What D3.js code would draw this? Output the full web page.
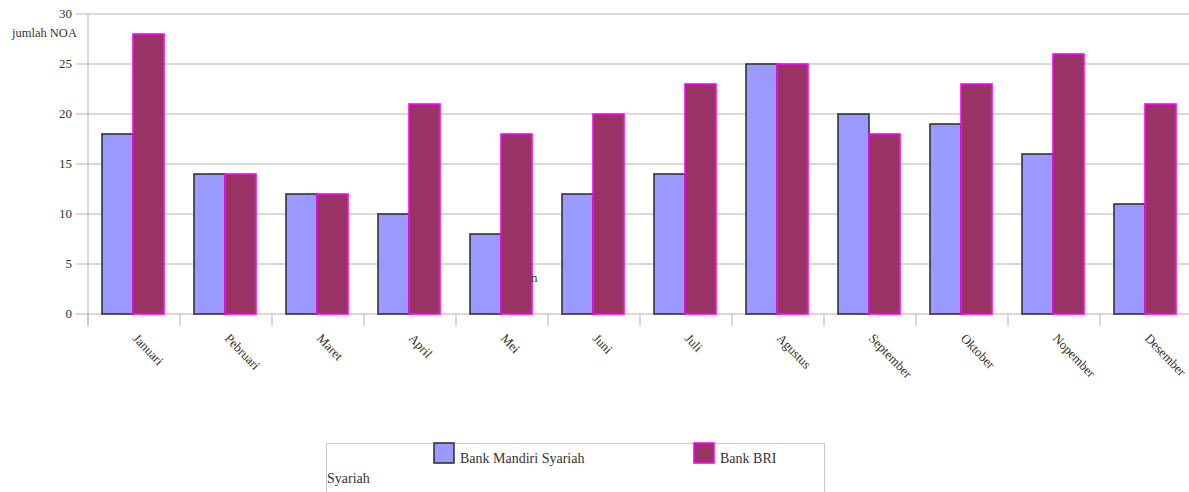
<!DOCTYPE html>
<html>
<head>
<meta charset="utf-8">
<script src="https://cdn.jsdelivr.net/npm/d3@7"></script>
<style>
  body { margin: 0; background: #fff; }
  svg { display: block; font-family: "Liberation Serif", "DejaVu Serif", serif; }
</style>
</head>
<body>
<svg id="chart" width="1189" height="492"></svg>
<script>
const months = ["Januari", "Pebruari", "Maret", "April", "Mei", "Juni", "Juli",
    "Agustus", "September", "Oktober", "Nopember", "Desember"];
const mandiri = [18, 14, 12, 10, 8, 12, 14, 25, 20, 19, 16, 11];
const bri = [28, 14, 12, 21, 18, 20, 23, 25, 18, 23, 26, 21];
const yTicks = [0, 5, 10, 15, 20, 25, 30];

const series = [
    { name: "Bank Mandiri Syariah", values: mandiri, fill: "#9999ff", stroke: "#333333" },
    { name: "Bank BRI", values: bri, fill: "#993366", stroke: "#ff00ff" }
];

const svg = d3.select("#chart");
const grid = "#b3b3b3";

const x = d3.scaleBand()
    .domain(months)
    .range([88, 1192]);

const y = d3.scaleLinear()
    .domain([0, 30])
    .range([314, 14]);

// garis grid horizontal
svg.append("g")
    .selectAll("line")
    .data(yTicks)
    .enter()
    .append("line")
    .attr("x1", 76)
    .attr("x2", 1189)
    .attr("y1", d => y(d))
    .attr("y2", d => y(d))
    .attr("stroke", grid)
    .attr("stroke-width", 1);

// sumbu y
svg.append("line")
    .attr("x1", 88).attr("x2", 88)
    .attr("y1", y(30)).attr("y2", 326)
    .attr("stroke", grid);

svg.append("g")
    .selectAll("text")
    .data(yTicks)
    .enter()
    .append("text")
    .attr("x", 72)
    .attr("y", d => y(d) + 4)
    .attr("text-anchor", "end")
    .attr("font-size", 13)
    .attr("fill", "#333")
    .text(d => d);

svg.append("text")
    .attr("x", 12)
    .attr("y", 37)
    .attr("font-size", 12.5)
    .attr("fill", "#333")
    .text("jumlah NOA");

// tick kategori
svg.append("g")
    .selectAll("line")
    .data(months)
    .enter()
    .append("line")
    .attr("x1", d => x(d)).attr("x2", d => x(d))
    .attr("y1", 314).attr("y2", 326)
    .attr("stroke", grid);

const barW = 31;
const offset = 14;

const groups = svg.append("g")
    .selectAll("g")
    .data(months)
    .enter()
    .append("g")
    .attr("transform", d => `translate(${x(d) + offset},0)`);

series.forEach((s, si) => {
    groups.append("rect")
        .attr("x", si * barW)
        .attr("y", (d, i) => y(s.values[i]))
        .attr("width", barW)
        .attr("height", (d, i) => y(0) - y(s.values[i]))
        .attr("fill", s.fill)
        .attr("stroke", s.stroke)
        .attr("stroke-width", 1.6);
});

// label bulan miring
svg.append("g")
    .selectAll("text")
    .data(months)
    .enter()
    .append("text")
    .attr("transform", d => `translate(${x(d) + x.bandwidth() / 2 - 2},339) rotate(46)`)
    .attr("font-size", 13)
    .attr("fill", "#333")
    .text(d => d);

svg.append("text")
    .attr("x", 531)
    .attr("y", 282)
    .attr("font-size", 13)
    .attr("fill", "#333")
    .text("n");

// legenda
svg.append("rect")
    .attr("x", 326.5)
    .attr("y", 443.5)
    .attr("width", 498)
    .attr("height", 60)
    .attr("fill", "#fff")
    .attr("stroke", "#c8c8c8");

const legendX = [434, 694];
series.forEach((s, i) => {
    svg.append("rect")
        .attr("x", legendX[i])
        .attr("y", 443)
        .attr("width", 20)
        .attr("height", 20)
        .attr("fill", s.fill)
        .attr("stroke", s.stroke)
        .attr("stroke-width", 1.6);
    svg.append("text")
        .attr("x", legendX[i] + 26)
        .attr("y", 463)
        .attr("font-size", 14)
        .attr("fill", "#333")
        .text(s.name);
});

svg.append("text")
    .attr("x", 327)
    .attr("y", 483)
    .attr("font-size", 14)
    .attr("fill", "#333")
    .text("Syariah");
</script>
</body>
</html>
